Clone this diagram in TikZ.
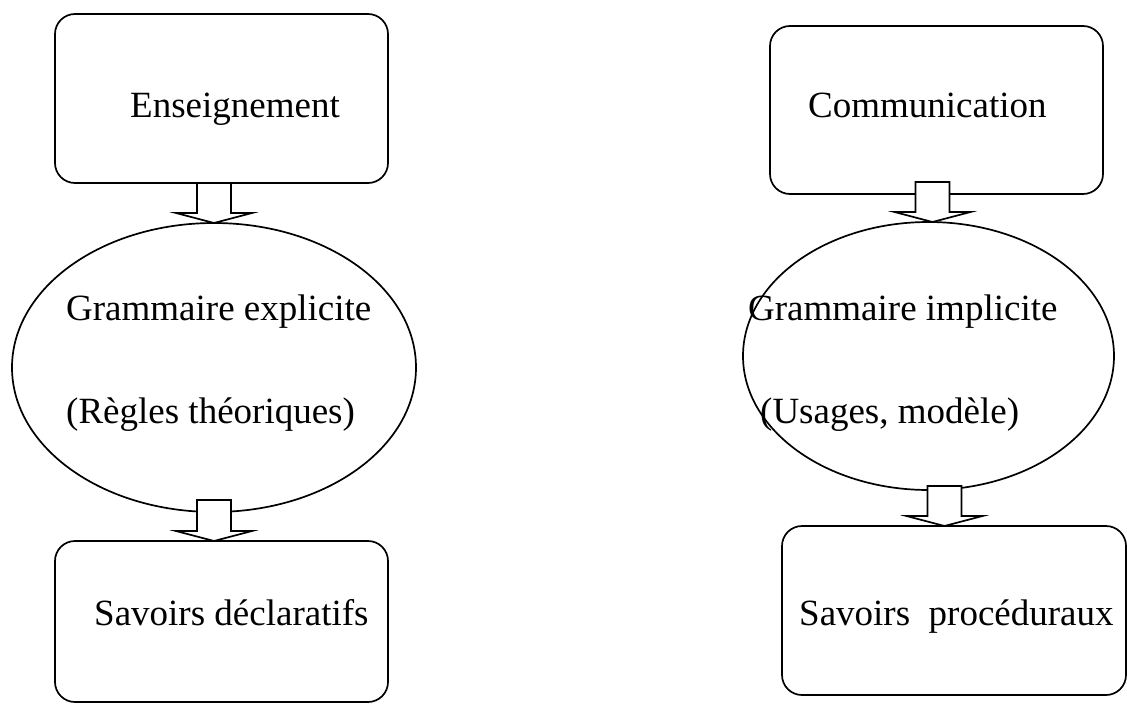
\documentclass[tikz,border=0pt]{standalone}
\usepackage{fontspec}
\setmainfont{Liberation Serif}
\usetikzlibrary{shapes.geometric,calc}
\tikzset{
  box/.style={draw, rounded corners=20pt, inner sep=0pt, outer sep=0pt, line width=1.7pt},
  oval/.style={draw, ellipse, inner sep=0pt, outer sep=0pt, line width=1.7pt},
  lbl/.style={anchor=base west, inner sep=0pt, font=\fontsize{37}{44}\selectfont},
  blockarrow/.style={draw, fill=white, line width=1.7pt, line join=miter}
}
\newcommand\blockarr[2]{%
  \draw[blockarrow] let \p1=(#1), \p2=(#2) in
  (\x2-17pt,\y1) -- (\x2+17pt,\y1) -- (\x2+17pt,\y2+10pt) -- (\x2+38pt,\y2+10pt)
  -- (\x2,\y2) -- (\x2-38pt,\y2+10pt) -- (\x2-17pt,\y2+10pt) -- cycle;}
\begin{document}
\begin{tikzpicture}[x=1pt,y=-1pt]
\useasboundingbox (0,0) rectangle (1127,704);
% left column
\node[box, minimum width=333pt, minimum height=169pt] (A) at (221.5,98.5) {};
\node[oval, minimum width=404pt, minimum height=289pt] (L) at (214,367.5) {};
\node[box, minimum width=333pt, minimum height=161pt] (C) at (221.5,621.5) {};
% right column
\node[box, minimum width=333pt, minimum height=168pt] (D) at (936.5,110) {};
\node[oval, minimum width=371pt, minimum height=268pt] (R) at (928.5,356) {};
\node[box, minimum width=344pt, minimum height=169pt] (F) at (954,610.5) {};
% block arrows
\coordinate (a1top) at (A.south);
\coordinate (a1tip) at (L.north);
\coordinate (a2top) at ($(L.south)+(0,-12)$);
\coordinate (a2tip) at (L.south |- C.north);
\coordinate (a3top) at ($(D.south)+(0,-12)$);
\coordinate (a3tip) at ($(R.north)+(4,0)$);
\coordinate (a4top) at ($(R.south)+(16,-4)$);
\coordinate (a4tip) at ($(R.south |- F.north)+(16,0)$);
\blockarr{a1top}{a1tip}
\blockarr{a2top}{a2tip}
\blockarr{a3top}{a3tip}
\blockarr{a4top}{a4tip}
% texts
\node[lbl] (t1) at (130,117) {Enseignement};
\node[lbl] (t2) at (66,320) {Grammaire explicite};
\node[lbl] (t3) at (66,423) {(Règles théoriques)};
\node[lbl] (t4) at (94,625) {Savoirs déclaratifs};
\node[lbl] (t5) at (808,117) {Communication};
\node[lbl] (t6) at (748,320) {Grammaire implicite};
\node[lbl] (t7) at (760,423) {(Usages, modèle)};
\node[lbl] (t8) at (799,625) {Savoirs~~procéduraux};
\end{tikzpicture}
\end{document}
